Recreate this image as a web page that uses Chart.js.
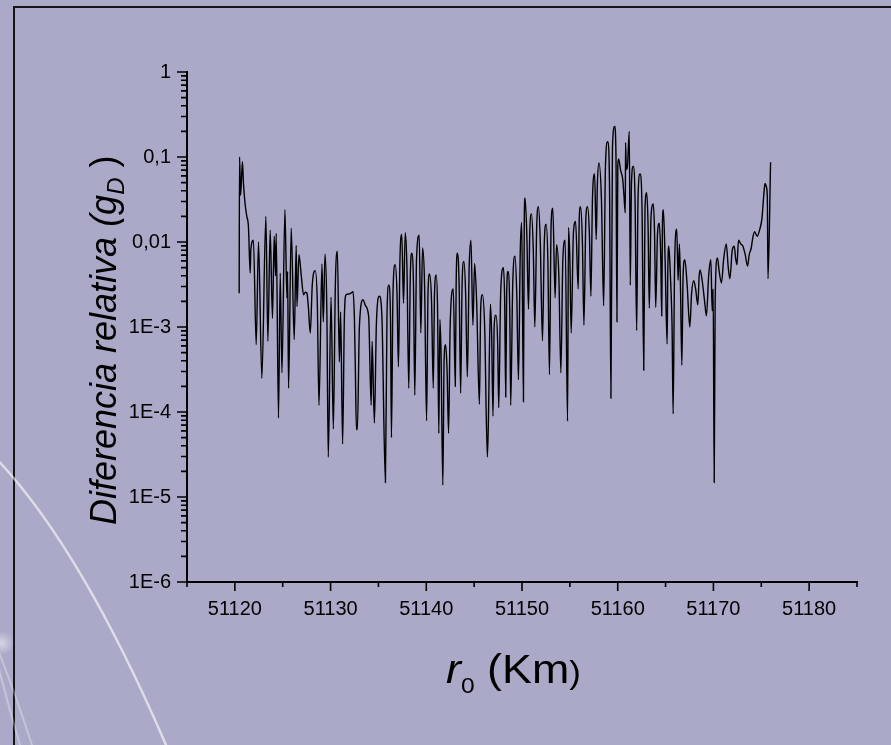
<!DOCTYPE html>
<html>
<head>
<meta charset="utf-8">
<script src="https://cdn.jsdelivr.net/npm/chart.js@4.4.1/dist/chart.umd.min.js"></script>
<style>
html, body { margin: 0; padding: 0; background: #aaaac8; }
#wrap { position: relative; width: 891px; height: 745px; overflow: hidden; }
#chart { position: absolute; left: 0; top: 0; }
.ytitle {
	position: absolute; left: 86px; top: 525px;
	transform: rotate(-90deg); transform-origin: left top;
	font-family: "Liberation Sans", Arial, sans-serif; font-size: 36px; line-height: 36px;
	font-style: italic; white-space: nowrap; color: #000;
}
.ytitle sub { font-size: 24px; vertical-align: baseline; position: relative; top: 8px; }
.ytitle .rp { font-style: normal; }
.xtitle {
	position: absolute; left: 446px; top: 649px;
	transform: scaleX(1.12); transform-origin: left top;
	font-family: "Liberation Sans", Arial, sans-serif; font-size: 40px; line-height: 40px;
	white-space: nowrap; color: #000;
}
.xtitle i { font-style: italic; }
.xtitle sub { font-size: 22px; vertical-align: baseline; position: relative; top: 10px; }
.xtitle .rp { font-size: 31px; }
</style>
</head>
<body>
<div id="wrap">
	<canvas id="chart" width="891" height="745"></canvas>
	<div class="ytitle">Diferencia relativa (g<sub>D</sub> <span class="rp">)</span></div>
	<div class="xtitle"><i>r</i><sub>0</sub> (Km<span class="rp">)</span></div>
</div>
<script>
// r0 in Km
var r0 = [
	51120.45, 51120.49, 51120.60, 51120.79, 51120.90, 51121.07, 51121.25, 51121.42, 51121.60, 51121.67,
	51121.94, 51122.23, 51122.47, 51122.82, 51123.24, 51123.45, 51123.69, 51123.93, 51124.11, 51124.25,
	51124.32, 51124.56, 51124.74, 51124.92, 51125.23, 51125.44, 51125.51, 51125.61, 51125.89, 51126.20,
	51126.41, 51126.49, 51126.70, 51126.94, 51127.18, 51127.36, 51127.53, 51127.67, 51127.88, 51128.09,
	51128.40, 51128.61, 51128.79, 51129.10, 51129.24, 51129.42, 51129.61, 51129.76, 51130.05, 51130.29,
	51130.50, 51130.71, 51130.92, 51131.05, 51131.26, 51131.44, 51131.62, 51131.96, 51132.12, 51132.35,
	51132.49, 51132.59, 51132.70, 51132.80, 51133.01, 51133.40, 51133.64, 51133.98, 51134.24, 51134.34,
	51134.58, 51134.79, 51135.10, 51135.37, 51135.73, 51135.89, 51136.08, 51136.26, 51136.36, 51136.52,
	51136.75, 51136.94, 51137.09, 51137.25, 51137.44, 51137.62, 51137.80, 51137.98, 51138.17, 51138.33,
	51138.49, 51138.66, 51138.80, 51138.98, 51139.26, 51139.43, 51139.61, 51139.82, 51140.03, 51140.18,
	51140.34, 51140.55, 51140.73, 51140.86, 51141.04, 51141.18, 51141.31, 51141.42, 51141.54, 51141.73,
	51141.86, 51142.02, 51142.17, 51142.33, 51142.49, 51142.82, 51143.03, 51143.12, 51143.24, 51143.43,
	51143.59, 51143.74, 51143.93, 51144.11, 51144.29, 51144.48, 51144.67, 51144.87, 51145.05, 51145.26,
	51145.55, 51145.68, 51145.86, 51146.10, 51146.38, 51146.49, 51146.70, 51146.83, 51146.97, 51147.09,
	51147.28, 51147.46, 51147.57, 51147.77, 51148.06, 51148.19, 51148.30, 51148.40, 51148.54, 51148.72,
	51148.82, 51149.03, 51149.27, 51149.45, 51149.63, 51149.82, 51149.97, 51150.15, 51150.24, 51150.32,
	51150.50, 51150.68, 51150.81, 51150.99, 51151.18, 51151.34, 51151.54, 51151.72, 51151.91, 51152.14,
	51152.33, 51152.52, 51152.70, 51152.87, 51153.04, 51153.22, 51153.46, 51153.61, 51153.85, 51154.06,
	51154.27, 51154.51, 51154.76, 51154.86, 51155.00, 51155.14, 51155.37, 51155.60, 51155.87, 51155.99,
	51156.12, 51156.31, 51156.47, 51156.68, 51156.85, 51157.04, 51157.20, 51157.36, 51157.59, 51157.75,
	51157.88, 51158.04, 51158.30, 51158.53, 51158.72, 51158.95, 51159.14, 51159.29, 51159.45, 51159.68,
	51159.82, 51159.92, 51160.01, 51160.10, 51160.29, 51160.52, 51160.65, 51160.79, 51160.82, 51160.90,
	51161.02, 51161.21, 51161.31, 51161.44, 51161.63, 51161.81, 51161.98, 51162.12, 51162.33, 51162.54,
	51162.72, 51162.85, 51163.03, 51163.17, 51163.30, 51163.48, 51163.72, 51163.85, 51163.97, 51164.16,
	51164.35, 51164.50, 51164.60, 51164.67, 51164.77, 51164.95, 51165.16, 51165.24, 51165.34, 51165.47,
	51165.58, 51165.68, 51165.79, 51165.94, 51166.17, 51166.31, 51166.45, 51166.57, 51166.70, 51166.83,
	51167.01, 51167.25, 51167.53, 51167.72, 51167.95, 51168.14, 51168.37, 51168.51, 51168.61, 51168.82,
	51169.08, 51169.27, 51169.50, 51169.73, 51169.87, 51169.97, 51170.08, 51170.18, 51170.42, 51170.60,
	51170.84, 51171.07, 51171.34, 51171.55, 51171.72, 51171.96, 51172.17, 51172.33, 51172.46, 51172.62,
	51172.85, 51173.08, 51173.32, 51173.57, 51173.74, 51173.95, 51174.11, 51174.30, 51174.58, 51174.84,
	51175.07, 51175.26, 51175.39, 51175.52, 51175.63, 51175.70, 51175.97
];

// relative difference g_D (log axis)
var gD = [
	2.5e-3, 0.1, 3.55e-2, 8.8e-2, 4.9e-2, 2.8e-2, 2.0e-2, 1.51e-2, 4.3e-3, 8.1e-3,
	1.05e-2, 6.2e-4, 1.0e-2, 2.5e-4, 2.0e-2, 6.8e-4, 1.38e-2, 1.26e-3, 1.17e-2, 4.0e-3,
	1.26e-2, 8.5e-5, 4.3e-3, 2.9e-4, 2.4e-2, 2.2e-3, 4.5e-3, 1.9e-4, 1.45e-2, 7.1e-4,
	9.1e-3, 1.74e-3, 7.1e-3, 4.0e-3, 2.4e-3, 2.57e-3, 2.5e-3, 1.78e-3, 8.5e-4, 3.16e-3,
	4.6e-3, 2.0e-3, 1.2e-4, 5.5e-3, 1.15e-3, 7.2e-3, 1.58e-3, 2.95e-5, 2.24e-3, 6.3e-5,
	3.16e-3, 7.8e-3, 3.9e-4, 1.5e-3, 4.2e-5, 1.26e-3, 2.4e-3, 2.45e-3, 2.5e-3, 2.6e-3,
	1.26e-3, 3.1e-4, 6.2e-5, 6.2e-5, 1.0e-3, 2.1e-3, 1.78e-3, 1.32e-3, 1.2e-4, 6.8e-4,
	7.4e-5, 1.12e-3, 2.3e-3, 1.26e-3, 1.48e-5, 1.26e-3, 3.1e-3, 1.26e-3, 5.0e-5, 2.5e-3,
	5.4e-3, 2.5e-3, 3.4e-4, 6.3e-3, 1.23e-2, 1.9e-3, 1.29e-2, 5.0e-3, 1.9e-4, 4.0e-3,
	7.4e-3, 3.16e-3, 1.58e-4, 6.3e-3, 1.2e-2, 8.5e-4, 8.5e-3, 3.16e-3, 7.9e-5, 2.5e-3,
	4.2e-3, 2.0e-3, 1.9e-4, 2.5e-3, 4.1e-3, 1.58e-3, 5.6e-5, 1.23e-3, 5.0e-4, 1.38e-5,
	4.0e-4, 6.2e-4, 3.16e-4, 5.6e-5, 1.0e-3, 2.8e-3, 2.0e-4, 3.16e-3, 7.4e-3, 3.16e-3,
	1.66e-4, 3.16e-3, 5.9e-3, 2.5e-3, 2.6e-4, 5.0e-3, 1.05e-2, 1.05e-3, 5.6e-3, 2.0e-3,
	1.23e-4, 1.58e-3, 2.4e-3, 1.0e-3, 2.95e-5, 7.9e-5, 1.86e-3, 7.9e-4, 8.9e-5, 1.0e-3,
	1.38e-3, 6.3e-4, 1.12e-4, 2.5e-3, 5.0e-3, 2.0e-3, 1.5e-4, 2.5e-3, 4.5e-3, 1.58e-3,
	1.2e-4, 3.16e-3, 6.8e-3, 2.5e-3, 2.4e-4, 7.9e-3, 1.7e-2, 1.32e-4, 2.0e-2, 3.3e-2,
	1.26e-2, 1.62e-3, 1.26e-2, 2.14e-2, 7.9e-3, 1.0e-3, 1.58e-2, 2.6e-2, 1.0e-2, 6.9e-4,
	1.0e-2, 1.62e-2, 6.3e-3, 2.75e-4, 1.58e-2, 2.5e-2, 2.2e-3, 9.3e-3, 4.0e-3, 2.9e-4,
	6.3e-3, 1.05e-2, 7.8e-5, 1.48e-2, 6.3e-3, 8.5e-4, 1.26e-2, 1.74e-2, 2.8e-3, 2.0e-2,
	2.6e-2, 1.0e-2, 1.05e-3, 2.0e-2, 2.6e-2, 1.26e-2, 2.3e-3, 3.16e-2, 6.3e-2, 1.07e-2,
	5.0e-2, 8.5e-2, 3.16e-2, 1.78e-3, 7.9e-2, 0.151, 5.0e-2, 1.45e-4, 0.126, 0.229,
	0.1, 1.15e-3, 7.9e-2, 9.5e-2, 7.1e-2, 5.5e-2, 3.55e-2, 2.2e-2, 0.148, 7.1e-2,
	7.9e-2, 0.2, 3.1e-3, 5.0e-2, 7.8e-2, 3.16e-2, 9.1e-4, 3.16e-2, 6.3e-2, 2.5e-2,
	3.1e-4, 2.5e-2, 3.8e-2, 1.58e-2, 1.66e-3, 2.0e-2, 2.8e-2, 1.26e-2, 1.7e-3, 1.26e-2,
	1.66e-2, 6.3e-3, 1.35e-3, 1.58e-2, 2.4e-2, 6.3e-3, 6.3e-4, 5.0e-3, 8.9e-3, 5.0e-3,
	2.5e-3, 1.0e-3, 9.5e-5, 5.0e-3, 1.41e-2, 3.55e-3, 9.5e-3, 2.5e-3, 3.55e-4, 4.0e-3,
	6.2e-3, 3.16e-3, 1.0e-3, 2.5e-3, 3.5e-3, 2.8e-3, 1.82e-3, 4.0e-3, 4.7e-3, 3.55e-3,
	2.0e-3, 1.35e-3, 4.0e-3, 6.2e-3, 1.55e-3, 2.8e-3, 1.48e-5, 2.0e-3, 6.5e-3, 4.5e-3,
	3.3e-3, 6.3e-3, 9.5e-3, 5.0e-3, 3.7e-3, 7.9e-3, 8.9e-3, 6.3e-3, 5.4e-3, 1.05e-2,
	9.5e-3, 8.9e-3, 7.1e-3, 5.2e-3, 7.1e-3, 8.5e-3, 1.12e-2, 1.32e-2, 1.17e-2, 1.41e-2,
	1.9e-2, 3.55e-2, 4.9e-2, 4.5e-2, 3.4e-2, 3.7e-3, 8.7e-2
];

// axis ranges and tick labels
var xMin = 51115, xMax = 51185;
var xTickValues = [51120, 51130, 51140, 51150, 51160, 51170, 51180];
var yTickValues = [1, 0.1, 0.01, 1e-3, 1e-4, 1e-5, 1e-6];
var yTickLabels = ['1', '0,1', '0,01', '1E-3', '1E-4', '1E-5', '1E-6'];

var bgColor = '#aaaac8';
var tickFont = { family: '"Liberation Sans", Arial, sans-serif', size: 20 };

var points = [];
for (var i = 0; i < r0.length; i++) {
	points.push({ x: r0[i], y: gD[i] });
}

// slide background: frame and the white swoosh in the lower left corner
var backdrop = {
	id: 'backdrop',
	beforeDraw: function(chart){
		var ctx = chart.ctx;
		ctx.save();
		ctx.fillStyle = bgColor;
		ctx.fillRect(0, 0, chart.width, chart.height);

		ctx.strokeStyle = '#151515';
		ctx.lineWidth = 2;
		ctx.beginPath();
		ctx.moveTo(14, chart.height);
		ctx.lineTo(14, 7);
		ctx.lineTo(chart.width, 7);
		ctx.stroke();

		ctx.lineCap = 'round';
		ctx.strokeStyle = 'rgba(255,255,255,0.3)';
		ctx.lineWidth = 2;
		ctx.beginPath();
		ctx.moveTo(-2, 650);
		ctx.quadraticCurveTo(14, 690, 32, 745);
		ctx.moveTo(-2, 665);
		ctx.quadraticCurveTo(8, 705, 20, 745);
		ctx.stroke();

		ctx.strokeStyle = 'rgba(255,255,255,0.6)';
		ctx.lineWidth = 2.5;
		ctx.beginPath();
		ctx.moveTo(-10, 452);
		ctx.quadraticCurveTo(78, 541, 166, 745);
		ctx.stroke();

		var g = ctx.createRadialGradient(2, 643, 0, 2, 643, 12);
		g.addColorStop(0, 'rgba(255,255,255,0.5)');
		g.addColorStop(1, 'rgba(255,255,255,0)');
		ctx.fillStyle = g;
		ctx.fillRect(-10, 630, 25, 26);
		ctx.restore();
	}
};

// major and minor tick marks, pointing outwards
var tickMarks = {
	id: 'tickMarks',
	afterDraw: function(chart){
		var ctx = chart.ctx;
		var xs = chart.scales.x, ys = chart.scales.y;
		var area = chart.chartArea;
		ctx.save();
		ctx.strokeStyle = '#000';
		ctx.lineWidth = 1.6;
		ctx.beginPath();
		for (var v = xMin; v <= xMax; v += 5) {
			var px = xs.getPixelForValue(v);
			var len = xTickValues.indexOf(v) >= 0 ? 9 : 5;
			ctx.moveTo(px, area.bottom);
			ctx.lineTo(px, area.bottom + len);
		}
		for (var e = -6; e <= 0; e++) {
			for (var m = 1; m <= 9; m++) {
				var val = m * Math.pow(10, e);
				if (val > 1.0001) break;
				var py = ys.getPixelForValue(val);
				var l = m === 1 ? 10 : 6;
				ctx.moveTo(area.left, py);
				ctx.lineTo(area.left - l, py);
			}
		}
		ctx.stroke();
		ctx.restore();
	}
};

var yLabel = function(value){
	for (var k = 0; k < yTickValues.length; k++) {
		if (Math.abs(Math.log10(value) - Math.log10(yTickValues[k])) < 1e-6) {
			return yTickLabels[k];
		}
	}
	return '';
};

var xLabel = function(value){
	return xTickValues.indexOf(value) >= 0 ? String(value) : '';
};

var chart = new Chart(document.getElementById('chart'), {
	type: 'line',
	data: {
		datasets: [{
			data: points,
			borderColor: '#000',
			borderWidth: 1.4,
			pointRadius: 0,
			fill: false,
			cubicInterpolationMode: 'monotone'
		}]
	},
	options: {
		responsive: false,
		animation: false,
		devicePixelRatio: 1,
		layout: { padding: { top: 72, right: 34, bottom: 0, left: 0 } },
		plugins: {
			legend: { display: false },
			tooltip: { enabled: false }
		},
		scales: {
			x: {
				type: 'linear',
				min: xMin,
				max: xMax,
				afterFit: function(scale){ scale.height = 163; },
				grid: { display: false },
				border: { display: true, color: '#000', width: 2 },
				ticks: {
					stepSize: 5,
					autoSkip: false,
					maxRotation: 0,
					padding: 7,
					color: '#000',
					font: tickFont,
					callback: xLabel
				}
			},
			y: {
				type: 'logarithmic',
				min: 1e-6,
				max: 1,
				afterFit: function(scale){ scale.width = 187; },
				grid: { display: false },
				border: { display: true, color: '#000', width: 2 },
				ticks: {
					autoSkip: false,
					padding: 8,
					color: '#000',
					font: tickFont,
					callback: yLabel
				}
			}
		}
	},
	plugins: [backdrop, tickMarks]
});
</script>
</body>
</html>
